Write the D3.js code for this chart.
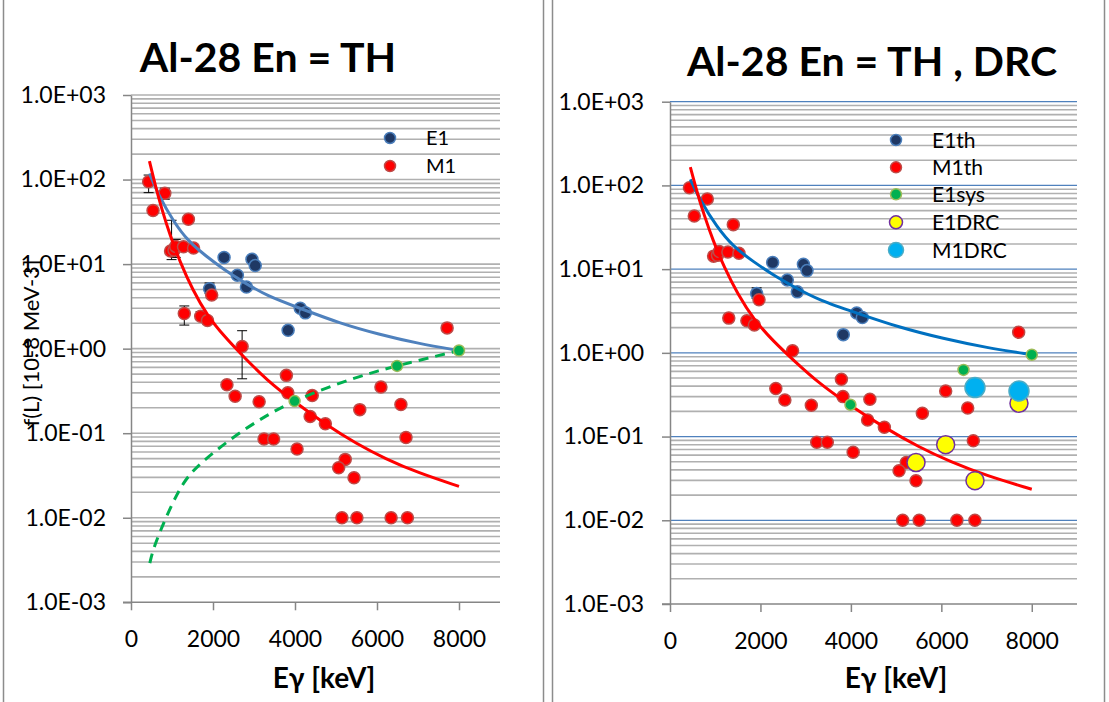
<!DOCTYPE html>
<html>
<head>
<meta charset="utf-8">
<title>Al-28 En = TH</title>
<script src="https://cdnjs.cloudflare.com/ajax/libs/d3/7.8.5/d3.min.js"></script>
<style>
body { margin: 0; background: #fff; }
text { font-family: Lato, "Open Sans", sans-serif; fill: #000; }
.tick text { font-size: 23px; }
.axis path, .axis line { stroke: #868686; stroke-width: 1.5; }
.title { font-size: 41px; font-weight: bold; text-anchor: middle; }
.xtitle { font-size: 28px; font-weight: bold; text-anchor: middle; }
.ytitle { font-size: 22px; text-anchor: middle; }
.err { stroke: #000; stroke-width: 1; }
</style>
</head>
<body>
<svg id="chart" width="1109" height="702"></svg>
<script>
// gamma energy [keV], strength f(L) [1e-8 MeV^-3]
var e1Points = [[1916, 5.1], [2270, 12], [2594, 7.4], [2815, 5.35], [2950, 11.4],
  [3030, 9.6], [3832, 1.65], [4128, 3.0], [4253, 2.65]];
var m1Points = [[430, 94], [537, 43], [825, 69], [1400, 34], [965, 14.3], [1050, 14.6],
  [1090, 16.2], [1280, 16.0], [1525, 15.5], [1300, 2.6], [1700, 2.42], [1865, 2.15],
  [1968, 4.3], [2710, 1.06], [2340, 0.375], [2540, 0.274], [3125, 0.236], [3790, 0.483],
  [3825, 0.30], [4420, 0.279], [4370, 0.158], [4740, 0.129], [3245, 0.0855], [3478, 0.0855],
  [4050, 0.065], [5225, 0.049], [5065, 0.039], [5440, 0.0297], [5580, 0.19], [6096, 0.351],
  [6583, 0.219], [6707, 0.089], [5145, 0.01], [5510, 0.01], [6344, 0.01], [6742, 0.01],
  [7710, 1.76]];
var sysPoints = [[3990, 0.24], [6490, 0.625], [8000, 0.95]];
var e1DrcPoints = [[5440, 0.049], [6096, 0.08], [6744, 0.0297], [7717, 0.25]];
var m1DrcPoints = [[6744, 0.385], [7717, 0.35]];

// error bars: [energy, low, high]
var e1Errors = [[1916, 4.47, 5.98]];
var m1Errors = [[430, 70, 113], [825, 58.5, 79], [990, 11.3, 33], [1090, 12, 19.6],
  [1300, 1.9, 3.2], [1700, 2.2, 2.75], [1865, 1.95, 2.35], [2710, 0.44, 1.63]];

// fitted trends
var e1Fit = [[450, 118], [663, 67], [1032, 32], [1400, 18.5], [1842, 12.3], [2284, 8.5],
  [2726, 6.2], [3316, 4.2], [4128, 3.0], [5085, 2.0], [6043, 1.48], [7000, 1.15], [8000, 0.95]];
var m1Fit = [[450, 165], [600, 82], [750, 45], [950, 22], [1200, 10.5], [1500, 5.0],
  [1850, 2.5], [2300, 1.35], [2750, 0.8], [3300, 0.43], [3980, 0.236], [4740, 0.128],
  [5500, 0.075], [6200, 0.05], [7000, 0.034], [8000, 0.0235]];
var sysFit = [[459, 0.0029], [545, 0.0044], [913, 0.012], [1298, 0.028], [1683, 0.044],
  [2496, 0.091], [3309, 0.164], [4017, 0.247], [4935, 0.37], [5748, 0.5], [6495, 0.63],
  [7374, 0.8], [8000, 0.95]];

var xTicks = [0, 2000, 4000, 6000, 8000];
var yDecades = [1e-3, 1e-2, 1e-1, 1, 10, 100, 1000];

var svg = d3.select("#chart");
svg.append("rect").attr("width", 1109).attr("height", 702).attr("fill", "#fff");

// chart frames
svg.append("rect").attr("x", 3.5).attr("y", -5).attr("width", 540).attr("height", 720)
  .attr("fill", "none").attr("stroke", "#8c8c8c").attr("stroke-width", 1.5);
svg.append("rect").attr("x", 552.5).attr("y", -5).attr("width", 552).attr("height", 720)
  .attr("fill", "none").attr("stroke", "#8c8c8c").attr("stroke-width", 1.5);

function fmtE(d) {
  var e = Math.round(Math.log10(d));
  return "1.0E" + (e < 0 ? "-" : "+") + String(Math.abs(e)).padStart(2, "0");
}

var styles = {
  e1: { fill: "#1f3864", stroke: "#4a7ebb", r: 6 },
  m1: { fill: "#ff0000", stroke: "#be4b48", r: 6 },
  sys: { fill: "#00b050", stroke: "#9bbb59", r: 5.5 },
  e1drc: { fill: "#ffff00", stroke: "#7030a0", r: 9 },
  m1drc: { fill: "#00b0f0", stroke: "#4bacc6", r: 10 }
};

function drawPanel(cfg) {
  var g = svg.append("g");
  var x = d3.scaleLinear().domain([0, 9000]).range([cfg.left, cfg.right]);
  var y = d3.scaleLog().domain([1e-3, 1e3]).range([cfg.bottom, cfg.top]);

  var minor = [];
  yDecades.slice(0, -1).forEach(function(d) {
    d3.range(2, 10).forEach(function(k) { minor.push(k * d); });
  });

  g.append("g").selectAll("line").data(minor).join("line")
    .attr("x1", cfg.left).attr("x2", cfg.right)
    .attr("y1", function(d) { return y(d); }).attr("y2", function(d) { return y(d); })
    .attr("stroke", "#b0b0b0").attr("stroke-width", 1.6);
  g.append("g").selectAll("line").data(yDecades.slice(1)).join("line")
    .attr("x1", cfg.left).attr("x2", cfg.right)
    .attr("y1", function(d) { return y(d); }).attr("y2", function(d) { return y(d); })
    .attr("stroke", cfg.majorColor).attr("stroke-width", cfg.majorWidth);

  g.append("g").attr("class", "axis")
    .attr("transform", "translate(" + cfg.left + ",0)")
    .call(d3.axisLeft(y).tickValues(yDecades).tickFormat(fmtE).tickSize(8).tickPadding(cfg.yPad).tickSizeOuter(0));
  var xa = g.append("g").attr("class", "axis")
    .attr("transform", "translate(0," + cfg.bottom + ")")
    .call(d3.axisBottom(x).tickValues(xTicks).tickFormat(d3.format("d")).tickSize(8).tickSizeOuter(0));
  xa.selectAll("text").attr("y", 45).attr("dy", 0);
  xa.select(".domain").attr("d", "M" + (cfg.left - 8) + ",0H" + cfg.right);

  // error bars
  function errs(data) {
    var eg = g.append("g");
    data.forEach(function(d) {
      var cx = x(d[0]);
      eg.append("line").attr("class", "err").attr("x1", cx).attr("x2", cx)
        .attr("y1", y(d[1])).attr("y2", y(d[2]));
      [d[1], d[2]].forEach(function(v) {
        eg.append("line").attr("class", "err").attr("x1", cx - 5).attr("x2", cx + 5)
          .attr("y1", y(v)).attr("y2", y(v));
      });
    });
  }
  errs(e1Errors);
  if (cfg.m1Errors) errs(m1Errors);

  function dots(data, st) {
    g.append("g").selectAll("circle").data(data).join("circle")
      .attr("cx", function(d) { return x(d[0]); })
      .attr("cy", function(d) { return y(d[1]); })
      .attr("r", st.r).attr("fill", st.fill)
      .attr("stroke", st.stroke).attr("stroke-width", 1.5);
  }
  dots(e1Points, styles.e1);
  dots(m1Points, styles.m1);

  var line = d3.line()
    .x(function(d) { return x(d[0]); })
    .y(function(d) { return y(d[1]); })
    .curve(d3.curveBasis);

  g.append("path").datum(e1Fit).attr("d", line).attr("fill", "none")
    .attr("stroke", cfg.blueLine).attr("stroke-width", 3);
  g.append("path").datum(m1Fit).attr("d", line).attr("fill", "none")
    .attr("stroke", "#ff0000").attr("stroke-width", 3);
  if (cfg.sysFit) {
    g.append("path").datum(sysFit).attr("d", line).attr("fill", "none")
      .attr("stroke", "#00b050").attr("stroke-width", 3).attr("stroke-dasharray", "10,7");
  }
  dots(sysPoints, styles.sys);
  if (cfg.drc) {
    dots(e1DrcPoints, styles.e1drc);
    dots(m1DrcPoints, styles.m1drc);
  }

  // titles
  g.append("text").attr("class", "title").attr("x", cfg.titleX).attr("y", cfg.titleY).text(cfg.title);
  g.append("text").attr("class", "xtitle").attr("x", cfg.xTitleX).attr("y", 688).text("Eγ [keV]");

  // legend
  var lg = g.append("g");
  cfg.legend.forEach(function(item, i) {
    var cy = cfg.legendY[i];
    lg.append("circle").attr("cx", cfg.legendX).attr("cy", cy).attr("r", item.r)
      .attr("fill", item.st.fill).attr("stroke", item.st.stroke).attr("stroke-width", 1.5);
    lg.append("text").attr("x", cfg.legendX + 36).attr("y", cy).attr("dy", "0.36em")
      .style("font-size", cfg.legendSize + "px").text(item.name);
  });
  return g;
}

var left = drawPanel({
  left: 131, right: 500, top: 95, bottom: 602.3, yPad: 17,
  majorColor: "#b0b0b0", majorWidth: 1.6, blueLine: "#4f81bd",
  m1Errors: true, sysFit: true, drc: false,
  title: "Al-28 En = TH", titleX: 268, titleY: 72, xTitleX: 324,
  legendX: 390, legendY: [138, 166], legendSize: 20,
  legend: [{ name: "E1", st: styles.e1, r: 5.5 }, { name: "M1", st: styles.m1, r: 5.5 }]
});
left.append("text").attr("class", "ytitle")
  .attr("transform", "translate(39,343) rotate(-90)")
  .text("f(L)  [10-8 MeV-3]");

drawPanel({
  left: 670, right: 1077, top: 101.7, bottom: 604, yPad: 18,
  majorColor: "#4f81bd", majorWidth: 1.3, blueLine: "#0070c0",
  m1Errors: false, sysFit: false, drc: true,
  title: "Al-28 En = TH , DRC", titleX: 872, titleY: 76, xTitleX: 896,
  legendX: 896, legendY: [140, 167.3, 194.3, 222.3, 250], legendSize: 21,
  legend: [
    { name: "E1th", st: styles.e1, r: 5.5 },
    { name: "M1th", st: styles.m1, r: 5.5 },
    { name: "E1sys", st: styles.sys, r: 5.5 },
    { name: "E1DRC", st: styles.e1drc, r: 6.5 },
    { name: "M1DRC", st: styles.m1drc, r: 7.5 }
  ]
});
</script>
</body>
</html>
